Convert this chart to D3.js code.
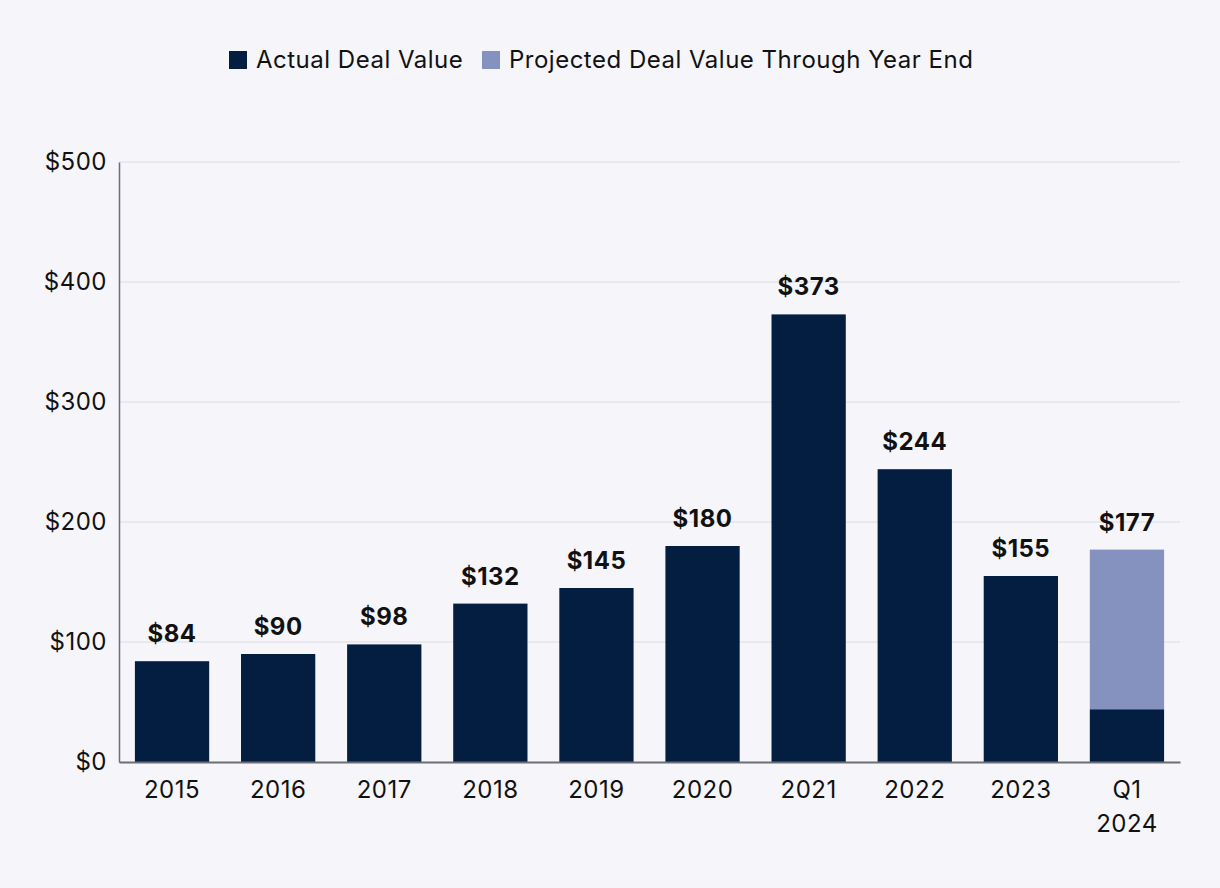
<!DOCTYPE html>
<html><head><meta charset="utf-8">
<script src="https://cdn.jsdelivr.net/npm/d3@7"></script>
<style>
html,body{margin:0;padding:0;background:#f5f5fa;}
svg{display:block;font-family:Inter, "DejaVu Sans", sans-serif;}
text{letter-spacing:0.5px;}
</style></head><body>
<svg id="c" width="1220" height="888"></svg>
<script>
const categories = ["2015","2016","2017","2018","2019","2020","2021","2022","2023","Q1\n2024"];
const actual = [84,90,98,132,145,180,373,244,155,44];
const projected = [0,0,0,0,0,0,0,0,0,133];
const totalLabels = ["$84","$90","$98","$132","$145","$180","$373","$244","$155","$177"];
const yTicks = [0,100,200,300,400,500];
const seriesNames = ["Actual Deal Value","Projected Deal Value Through Year End"];
const colors = ["#041e42","#8592c0"];

const svg = d3.select("#c");
svg.append("rect").attr("width",1220).attr("height",888).attr("fill","#f5f5fa");
const m = {l:119, r:1180, t:162, b:762};
const x = d3.scaleBand().domain(categories).range([m.l,m.r]).paddingInner(0.3).paddingOuter(0.15);
const y = d3.scaleLinear().domain([0,500]).range([m.b,m.t]);

// grid
svg.append("g").selectAll("line").data(yTicks.filter(d=>d>0)).join("line")
  .attr("x1",m.l).attr("x2",m.r).attr("y1",d=>y(d)).attr("y2",d=>y(d))
  .attr("stroke","#dcdce3").attr("stroke-width",1.2);

// y axis
const ya = svg.append("g").attr("transform",`translate(${m.l},0)`)
  .call(d3.axisLeft(y).tickValues(yTicks).tickSize(0).tickPadding(12).tickFormat(d=>"$"+d));
ya.select(".domain").attr("stroke","#6b6e73").attr("stroke-width",1.5);
ya.selectAll("text").attr("font-size",24).attr("fill","#111").attr("font-family","Inter, sans-serif");

// bars
const rows = categories.map((c,i)=>({c, a:actual[i], p:projected[i], lab:totalLabels[i]}));
svg.append("g").selectAll("rect").data(rows).join("rect")
  .attr("x",d=>x(d.c)).attr("width",x.bandwidth())
  .attr("y",d=>y(d.a)).attr("height",d=>y(0)-y(d.a)).attr("fill",colors[0]);
svg.append("g").selectAll("rect").data(rows.filter(d=>d.p>0)).join("rect")
  .attr("x",d=>x(d.c)).attr("width",x.bandwidth())
  .attr("y",d=>y(d.a+d.p)).attr("height",d=>y(d.a)-y(d.a+d.p)).attr("fill",colors[1]);

// value labels
svg.append("g").selectAll("text").data(rows).join("text")
  .attr("x",d=>x(d.c)+x.bandwidth()/2).attr("y",d=>y(d.a+d.p)-19)
  .attr("text-anchor","middle").attr("font-size",24).attr("font-weight","bold").attr("fill","#111")
  .text(d=>d.lab);

// x axis
const xa = svg.append("g").attr("transform",`translate(0,${m.b})`)
  .call(d3.axisBottom(x).tickSize(0).tickFormat(""));
xa.select(".domain").attr("stroke","#6b6e73").attr("stroke-width",2);
const xl = svg.append("g");
categories.forEach(c=>{
  const lines = c.split("\n");
  const t = xl.append("text").attr("x",x(c)+x.bandwidth()/2).attr("y",798)
    .attr("text-anchor","middle").attr("font-size",24).attr("fill","#111");
  lines.forEach((l,i)=>t.append("tspan").attr("x",x(c)+x.bandwidth()/2).attr("dy",i?34:0).text(l));
});

// legend
const lg = svg.append("g");
const items = [{n:seriesNames[0],c:colors[0],x:229},{n:seriesNames[1],c:colors[1],x:482}];
items.forEach(it=>{
  lg.append("rect").attr("x",it.x).attr("y",51).attr("width",18).attr("height",18).attr("fill",it.c);
  lg.append("text").attr("x",it.x+27).attr("y",68).attr("font-size",24).attr("fill","#111").text(it.n);
});
</script></body></html>
